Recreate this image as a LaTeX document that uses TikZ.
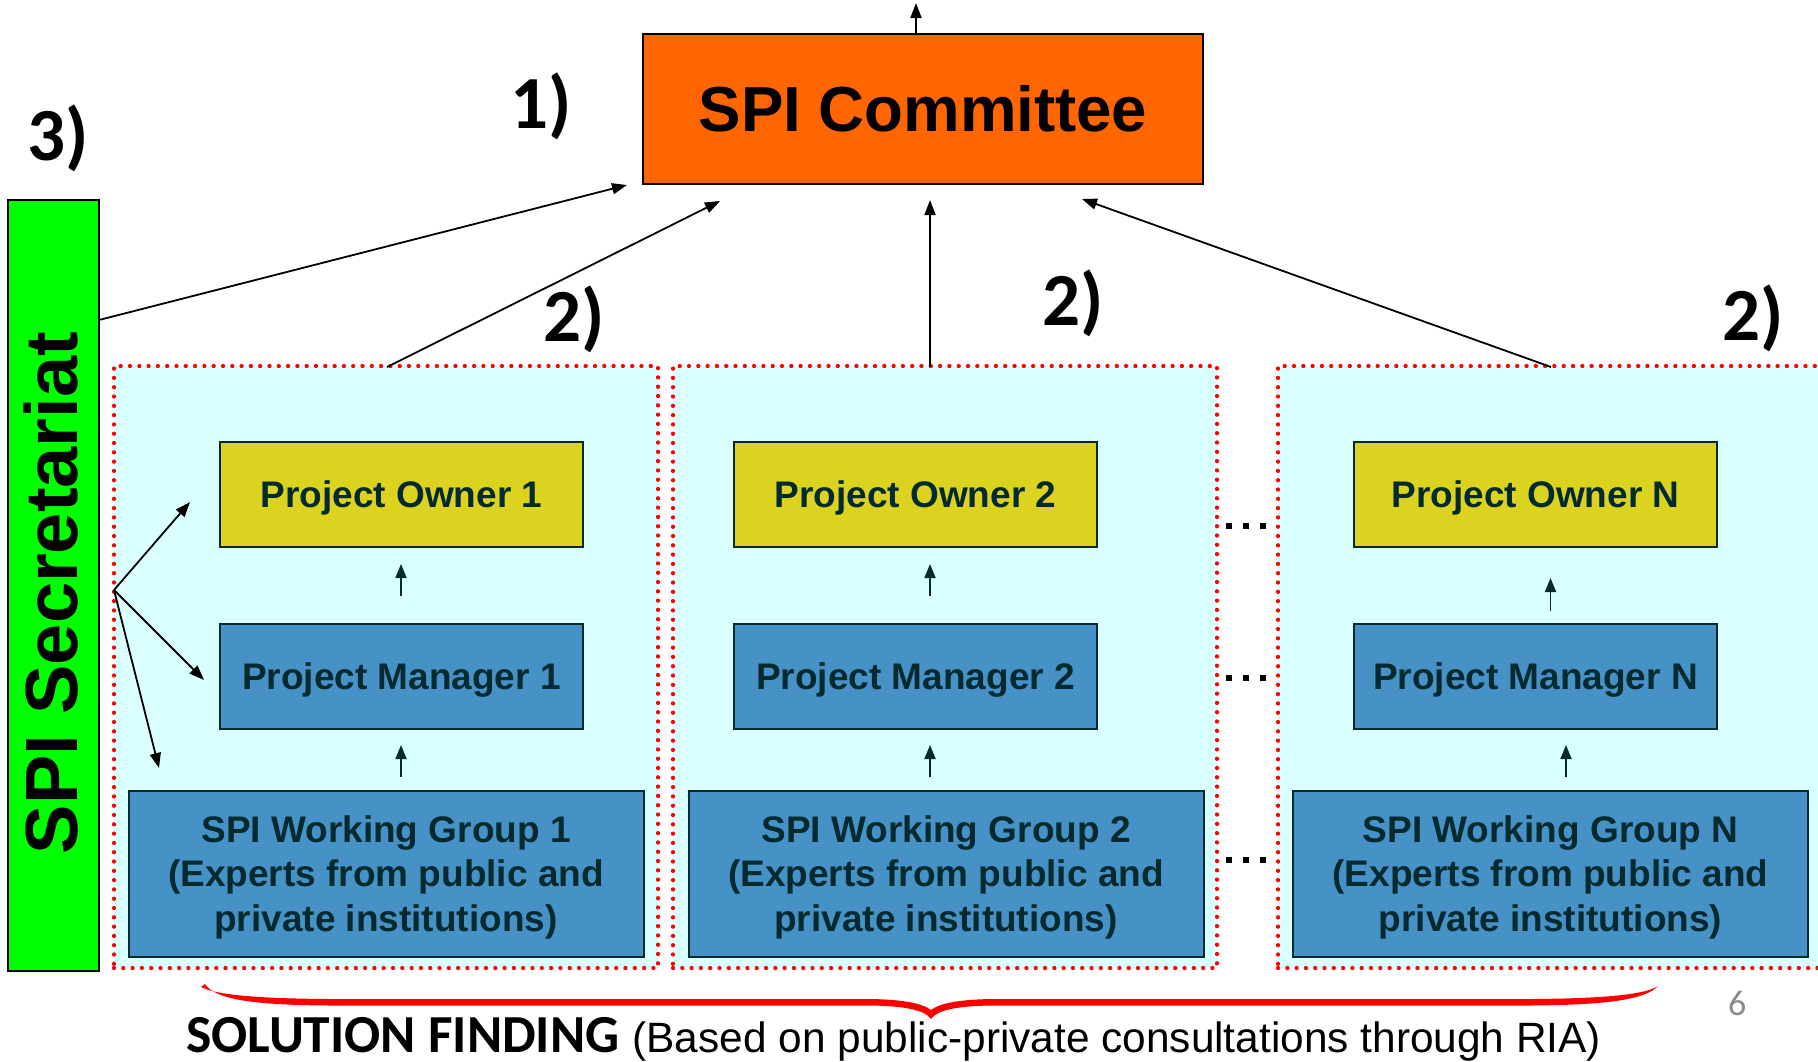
\documentclass[tikz,border=0pt]{standalone}
\usepackage{fontspec}
\setmainfont{Liberation Sans}
\newfontfamily\carlito{Carlito}
\usetikzlibrary{arrows.meta}
\definecolor{ownerfill}{HTML}{DCD321}
\definecolor{mgrfill}{HTML}{4691C6}
\definecolor{boxtext}{HTML}{032A2E}
\definecolor{panelfill}{HTML}{D9FFFF}
\definecolor{orangefill}{HTML}{FF6600}
\definecolor{greenfill}{HTML}{00FF00}
\definecolor{pagegray}{HTML}{8C8C8C}
\begin{document}
\begin{tikzpicture}[x=1pt,y=-1pt,
  panelbox/.style={draw=red, fill=panelfill, line width=4.3pt, dash pattern=on 0pt off 9.3pt, line cap=round, minimum width=544pt, minimum height=602pt, inner sep=0pt},
  unitbox/.style={draw=boxtext, line width=2pt, inner sep=0pt, text=boxtext, text depth=0pt, font=\bfseries\fontsize{37}{44.5}\selectfont, align=center},
  ownerbox/.style={unitbox, fill=ownerfill, minimum width=363pt, minimum height=105pt},
  mgrbox/.style={unitbox, fill=mgrfill, minimum width=363pt, minimum height=105pt},
  wgbox/.style={unitbox, fill=mgrfill, minimum width=515pt, minimum height=166pt},
  numlabel/.style={anchor=base west, inner sep=0pt, font=\carlito\bfseries\fontsize{75}{80}\selectfont},
  bigarrow/.style={-{Triangle[length=15pt,width=11pt]}, line width=1.8pt, black},
  smallarrow/.style={-{Triangle[length=14pt,width=11pt]}, line width=1.8pt, boxtext},
  dotsq/.style={fill=black}
]
\path[use as bounding box] (0,0) rectangle (1818,1061);
\clip (0,0) rectangle (1818,1061);

% panels
\node[panelbox] (p1) at (386,667) {};
\node[panelbox] (p2) at (945,667) {};
\node[panelbox] (p3) at (1550,667) {};

% committee
\node[draw=black, line width=2pt, fill=orangefill, minimum width=560pt, minimum height=150pt, inner sep=0pt,
      font=\bfseries\fontsize{63.6}{70}\selectfont] (committee) at (923,109) {SPI Committee};

% secretariat
\node[draw=black, line width=2pt, fill=greenfill, minimum width=91pt, minimum height=771pt, inner sep=0pt] (sec) at (53.5,585) {};
\node[rotate=90, inner sep=0pt, font=\bfseries\fontsize{74}{80}\selectfont] (sectext) at (51,593) {SPI Secretariat};

% unit boxes
\node[ownerbox] (o1) at (401.5,494.5) {Project Owner 1};
\node[mgrbox]   (m1) at (401.5,676.5) {Project Manager 1};
\node[wgbox]    (w1) at (386,873.5) {SPI Working Group 1\\(Experts from public and\\private institutions)};
\node[ownerbox] (o2) at (915.5,494.5) {Project Owner 2};
\node[mgrbox]   (m2) at (915.5,676.5) {Project Manager 2};
\node[wgbox]    (w2) at (946,873.5) {SPI Working Group 2\\(Experts from public and\\private institutions)};
\node[ownerbox] (o3) at (1535.5,494.5) {Project Owner N};
\node[mgrbox]   (m3) at (1535.5,676.5) {Project Manager N};
\node[wgbox]    (w3) at (1550.5,873.5) {SPI Working Group N\\(Experts from public and\\private institutions)};

% small arrows inside panels
\coordinate (a1s) at (401,596); \coordinate (a1t) at (401,564);
\coordinate (b1s) at (401,777); \coordinate (b1t) at (401,745);
\coordinate (a2s) at (930,596); \coordinate (a2t) at (930,564);
\coordinate (b2s) at (930,777); \coordinate (b2t) at (930,745);
\coordinate (a3s) at (1550.5,611); \coordinate (a3t) at (1550.5,578);
\coordinate (b3s) at (1566,777); \coordinate (b3t) at (1566,745);
\foreach \s/\t in {a1s/a1t,b1s/b1t,a2s/a2t,b2s/b2t,a3s/a3t,b3s/b3t}
  \draw[smallarrow] (\s) -- (\t);

% secretariat arrows into panel 1
\coordinate (sp) at (114,590);
\coordinate (sto) at (190,502);
\coordinate (stm) at (204,680);
\coordinate (stw) at (159,768);
\draw[bigarrow] (sp) -- (sto);
\draw[bigarrow] (sp) -- (stm);
\draw[bigarrow] (sp) -- (stw);

% arrows to committee
\coordinate (secout) at (99,320);
\coordinate (c0) at (627,185);
\coordinate (s1) at (387,367); \coordinate (c1) at (720,201);
\coordinate (s2) at (930,367); \coordinate (c2) at (930,200);
\coordinate (s3) at (1551,367); \coordinate (c3) at (1082,199);
\coordinate (ctop) at (916,3);
\draw[bigarrow] (secout) -- (c0);
\draw[bigarrow] (s1) -- (c1);
\draw[bigarrow] (s2) -- (c2);
\draw[bigarrow] (s3) -- (c3);
\draw[bigarrow] (committee.north -| ctop) -- (ctop);

% ellipsis dots between panels 2 and 3
\foreach \yy in {526,678,860}
  \foreach \xx in {1229,1246,1263}
    \fill[dotsq] (\xx-2.6,\yy-2.6) rectangle (\xx+2.6,\yy+2.6);

% number labels
\node[numlabel] (l1) at (510,128) {1)};
\node[numlabel] (l3) at (27,160) {3)};
\node[numlabel] (l2a) at (543,341) {2)};
\node[numlabel] (l2b) at (1042,325) {2)};
\node[numlabel] (l2c) at (1722,340) {2)};

% red brace
\fill[red] (205,984) .. controls (215,999) and (250,1005) .. (330,1005.5) -- (870,1005.5)
  .. controls (905,1006) and (925,1010) .. (931,1019)
  .. controls (937,1010) and (957,1006) .. (992,1005.5) -- (1530,1005.5)
  .. controls (1610,1005) and (1646,999) .. (1658,986)
  .. controls (1646,994) and (1610,998.5) .. (1530,999) -- (992,999)
  .. controls (960,999.5) and (940,1003) .. (931,1010)
  .. controls (922,1003) and (902,999.5) .. (870,999) -- (330,999)
  .. controls (250,998.5) and (214,994) .. (201,987) -- cycle;

% bottom caption
\node[anchor=base west, inner sep=0pt] (caption) at (186,1052)
  {{\carlito\bfseries\fontsize{53.5}{60}\selectfont SOLUTION FINDING}\hspace{13pt}{\fontsize{42.4}{50}\selectfont (Based on public-private consultations through RIA)}};

% page number
\node[anchor=base west, inner sep=0pt, text=pagegray, font=\carlito\fontsize{36}{40}\selectfont] (pageno) at (1728,1015) {6};
\end{tikzpicture}
\end{document}
